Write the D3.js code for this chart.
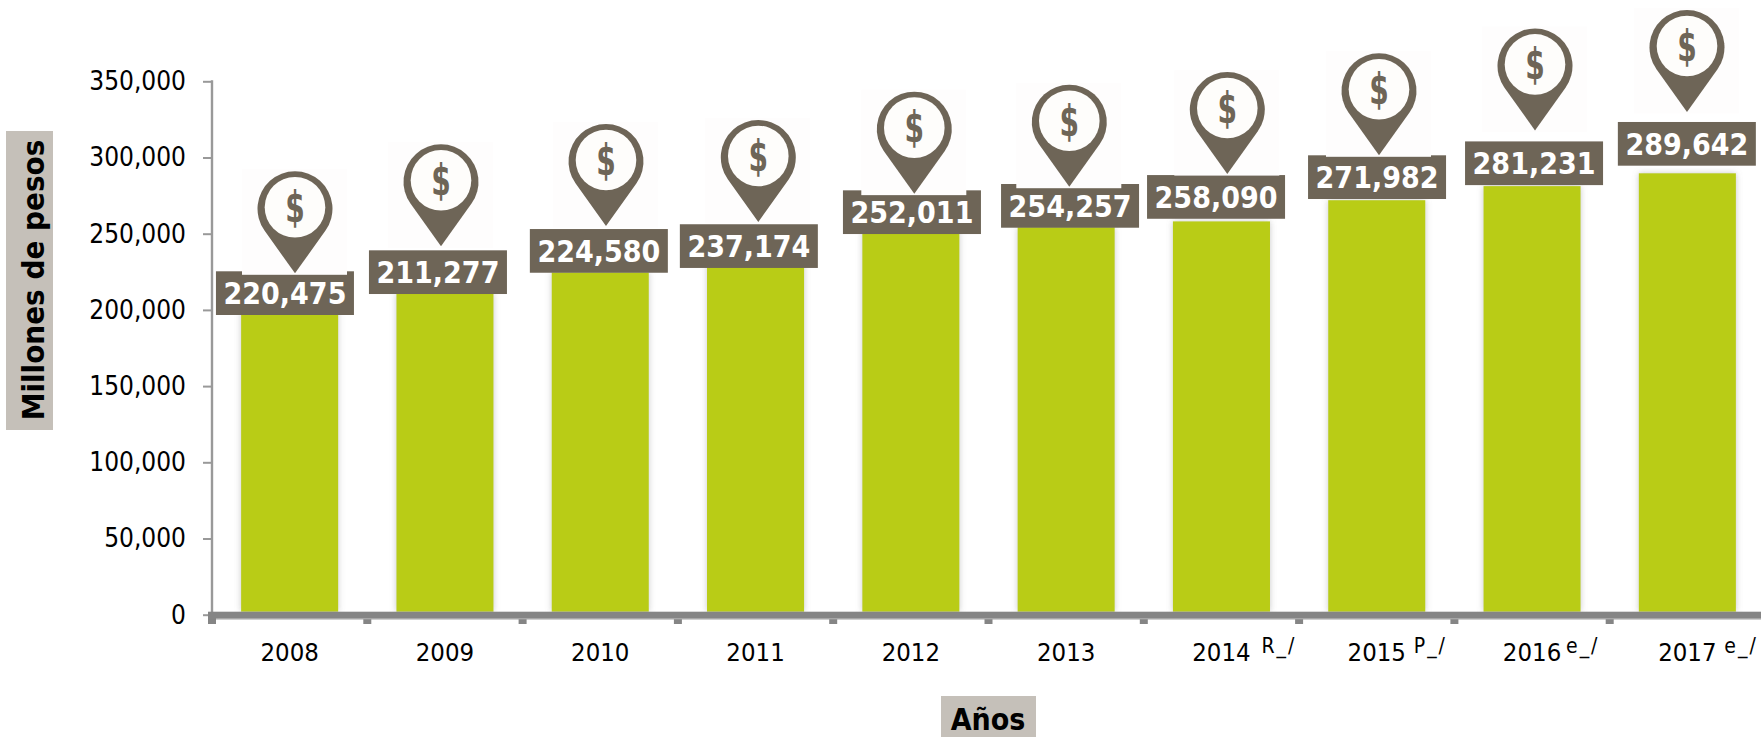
<!DOCTYPE html>
<html>
<head>
<meta charset="utf-8">
<script src="https://cdn.jsdelivr.net/npm/d3@7/dist/d3.min.js"></script>
<style>
html,body{margin:0;padding:0;background:#fff;overflow:hidden}
svg{display:block}
text{font-family:"DejaVu Sans Condensed","DejaVu Sans",sans-serif}
</style>
</head>
<body>
<svg id="chart" width="1761" height="737"></svg>
<script>
const years = ["2008","2009","2010","2011","2012","2013","2014","2015","2016","2017"];
const suffixes = ["","","","","","","R_/","P_/","e_/","e_/"];
const values = [220475,211277,224580,237174,252011,254257,258090,271982,281231,289642];
const yTicks = [0,50000,100000,150000,200000,250000,300000,350000];

// manual nudges of the callouts in the original, relative to each bar
const labelDx = [-4.7,-7,-1.4,-6.7,1.1,3.9,-5.4,0.3,2,-0.5];
const labelDy = [36.3,1.3,0.3,14.7,3.4,0.5,-2.6,-1.2,-1,-7.6];
const pinDx = [5.35,-3.95,5.75,2.75,3.45,3.15,5.85,2.25,2.95,-0.35];
const pinDy = [2,-4,-3,-2.3,3.3,2.7,-1,0,-11,-10];
const suffixGap = [0,0,0,0,0,0,11,8,5,8];

const GREEN="#b9cc18", BROWN="#6e6557", AXIS="#858585", TITLE_BG="#c5c0b9";

const svg=d3.select("#chart");
const x=d3.scaleBand().domain(years).range([212,1765]).paddingInner(0.375).paddingOuter(0.1875);
const y=d3.scaleLinear().domain([0,350000]).range([614.7,81.3]);

const defs=svg.append("defs");
const shadow=defs.append("filter").attr("id","barShadow").attr("x","-20%").attr("y","-5%").attr("width","140%").attr("height","110%");
shadow.append("feDropShadow").attr("dx",0).attr("dy",0).attr("stdDeviation",3).attr("flood-color","#777").attr("flood-opacity",0.4);

// bars
svg.append("g").selectAll("rect").data(values).join("rect")
  .attr("x",(d,i)=>x(years[i]))
  .attr("width",x.bandwidth())
  .attr("y",d=>y(d))
  .attr("height",d=>y(0)-3-y(d))
  .attr("fill",GREEN)
  .attr("filter","url(#barShadow)");

// y axis
const yAxis=svg.append("g").attr("transform","translate(212,0)")
  .call(d3.axisLeft(y).tickValues(yTicks).tickSize(9).tickPadding(17).tickFormat(d3.format(",")));
yAxis.select(".domain").remove();
yAxis.selectAll("line").attr("stroke","#999").attr("stroke-width",2);
yAxis.selectAll("text").attr("fill","#000").attr("font-size",26)
  .attr("font-family",'"DejaVu Sans Condensed"');
yAxis.append("line").attr("y1",y(350000)-1).attr("y2",y(0)).attr("stroke","#999").attr("stroke-width",2.4);

// x axis: thick band with ticks on the category boundaries
const xG=svg.append("g");
const bandEdges=[...years.map(c=>x(c)-x.step()*0.1875),x.range()[1]];
xG.selectAll("rect.t").data(bandEdges).join("rect").attr("class","t")
  .attr("x",d=>d-4).attr("width",8).attr("y",y(0)).attr("height",9.3).attr("fill",AXIS);
xG.append("rect").attr("x",x.range()[0]-4).attr("width",1761-x.range()[0]+4)
  .attr("y",y(0)-3).attr("height",7.6).attr("fill",AXIS);
xG.append("rect").attr("x",x.range()[0]+4).attr("width",1761-x.range()[0]-4)
  .attr("y",y(0)+3.6).attr("height",1).attr("fill","#b5b5b5");

const xLabels=d3.axisBottom(x).tickSize(0).tickPadding(0);
const xAxis=svg.append("g").attr("transform",`translate(0,${y(0)})`).call(xLabels);
xAxis.select(".domain").remove();
xAxis.selectAll("text").attr("y",46.3).attr("dy",0).attr("fill","#000").attr("font-size",25.5);

svg.append("g").selectAll("text").data(suffixes).join("text")
  .attr("x",(d,i)=>x(years[i])+x.bandwidth()/2+29+suffixGap[i])
  .attr("y",y(0)+38)
  .attr("font-size",21).attr("letter-spacing",2).attr("fill","#000").text(d=>d);

// pin icon
const R=37.5, D=64.5, a=Math.acos(R/D);
const tx=R*Math.sin(a), ty=-D+R*Math.cos(a);
const pinPath=d3.path();
pinPath.moveTo(0,0);
pinPath.lineTo(-tx,ty);
pinPath.arc(0,-D,R,Math.PI/2+a,Math.PI/2-a+2*Math.PI,false);
pinPath.closePath();

const boxW=138, boxH=43.7;
const cx=i=>x(years[i])+x.bandwidth()/2;
const boxTop=(d,i)=>y(d)+labelDy[i]-boxH;

// value callouts
const lab=svg.append("g").selectAll("g").data(values).join("g")
  .attr("transform",(d,i)=>`translate(${cx(i)+labelDx[i]},${boxTop(d,i)})`);
lab.append("rect").attr("x",-boxW/2).attr("width",boxW).attr("height",boxH).attr("fill",BROWN);
lab.append("text").attr("text-anchor","middle").attr("x",0).attr("y",33)
  .attr("fill","#fff").attr("font-size",30).attr("font-weight",700)
  .text(d=>d3.format(",")(d));

// pins (the icon image carries a near white background that cuts the callout's corners)
const pin=svg.append("g").selectAll("g").data(values).join("g")
  .attr("transform",(d,i)=>`translate(${cx(i)+pinDx[i]},${boxTop(d,i)+pinDy[i]})`);
pin.append("rect").attr("x",-53).attr("y",-104).attr("width",105).attr("height",105.5).attr("fill","#fefdfd");
pin.append("path").attr("d",pinPath.toString()).attr("fill",BROWN);
pin.append("circle").attr("cx",0).attr("cy",-66).attr("r",30.3).attr("fill","#fefdfb");
pin.append("text").attr("text-anchor","middle").attr("transform","translate(0,-51.2) scale(0.78,1.05)")
  .attr("font-size",40).attr("font-weight",700).attr("fill",BROWN).text("$");

// axis titles
svg.append("rect").attr("x",6).attr("y",131).attr("width",47).attr("height",299).attr("fill",TITLE_BG);
svg.append("text").attr("transform","translate(44,280) rotate(-90)")
  .attr("text-anchor","middle").attr("font-size",31).attr("font-weight",700).attr("fill","#000")
  .text("Millones de pesos");
svg.append("rect").attr("x",941).attr("y",696).attr("width",95).attr("height",41).attr("fill",TITLE_BG);
svg.append("text").attr("x",988).attr("y",729.9)
  .attr("text-anchor","middle").attr("font-size",30).attr("font-weight",700).attr("fill","#000")
  .text("Años");
</script>
</body>
</html>
